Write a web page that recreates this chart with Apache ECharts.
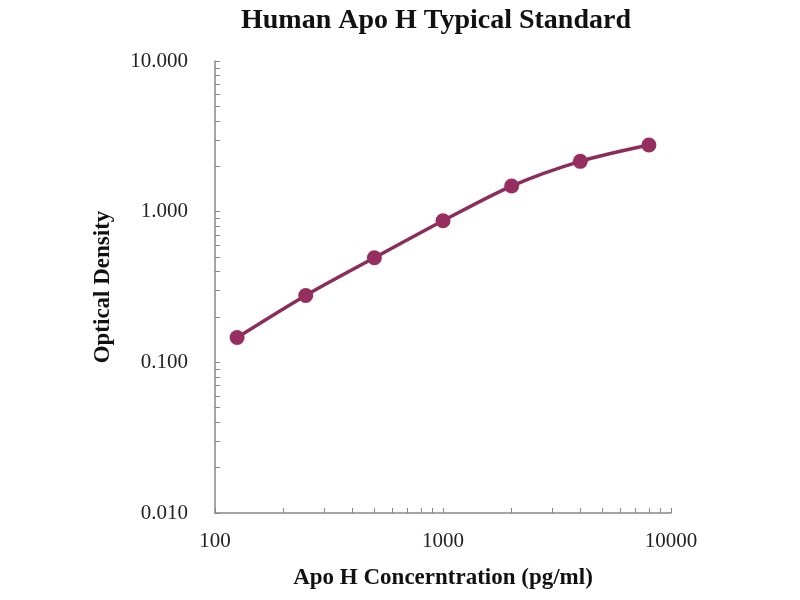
<!DOCTYPE html>
<html>
<head>
<meta charset="utf-8">
<script src="https://cdn.jsdelivr.net/npm/echarts@6/dist/echarts.min.js"></script>
<style>html,body{margin:0;padding:0;background:#fff}#c{width:800px;height:600px}</style>
</head>
<body>
<div id="c"></div>
<script>
const concentrations = [125, 250, 500, 1000, 2000, 4000, 8000];
const opticalDensity = [0.146, 0.278, 0.494, 0.870, 1.479, 2.157, 2.767];
const xTickValues = [100,200,300,400,500,600,700,800,900,1000,2000,3000,4000,5000,6000,7000,8000,9000,10000];
const xLabelValues = [100, 1000, 10000];
const yTickValues = [0.01,0.02,0.03,0.04,0.05,0.06,0.07,0.08,0.09,0.1,0.2,0.3,0.4,0.5,0.6,0.7,0.8,0.9,1,2,3,4,5,6,7,8,9,10];
const yLabelValues = [0.01, 0.1, 1, 10];

const serif = '"Liberation Serif", "Times New Roman", serif';
const chart = echarts.init(document.getElementById('c'));
chart.setOption({
  backgroundColor: '#fff',
  animation: false,
  title: {
    text: 'Human Apo H Typical Standard',
    left: 431, top: 2, textAlign: 'center',
    textStyle: {fontFamily: serif, fontWeight: 'bold', fontSize: 28, color: '#111'}
  },
  grid: {left: 215, right: 129, top: 61, bottom: 87, containLabel: false},
  xAxis: {
    type: 'log', logBase: 10, min: 100, max: 10000,
    name: 'Apo H Concerntration (pg/ml)', nameLocation: 'middle', nameGap: 54,
    nameTextStyle: {fontFamily: serif, fontWeight: 'bold', fontSize: 23, color: '#111'},
    axisLine: {show: true, lineStyle: {color: '#888', width: 1.5}},
    axisTick: {show: true, inside: true, length: 5, customValues: xTickValues, lineStyle: {color: '#888'}},
    axisLabel: {customValues: xLabelValues, margin: 18, fontFamily: serif, fontSize: 21, color: '#222',
      formatter: v => String(Math.round(v))},
    splitLine: {show: false}
  },
  yAxis: {
    type: 'log', logBase: 10, min: 0.01, max: 10,
    name: 'Optical Density', nameLocation: 'middle', nameGap: 100,
    nameTextStyle: {fontFamily: serif, fontWeight: 'bold', fontSize: 23, color: '#111'},
    axisLine: {show: true, lineStyle: {color: '#888', width: 1.5}},
    axisTick: {show: true, inside: true, length: 5, customValues: yTickValues, lineStyle: {color: '#888'}},
    axisLabel: {customValues: yLabelValues, margin: 27, fontFamily: serif, fontSize: 21, color: '#222',
      formatter: v => Number(v).toFixed(3)},
    splitLine: {show: false}
  },
  series: [{
    type: 'line',
    data: concentrations.map((c, i) => [c, opticalDensity[i]]),
    smooth: 0.3,
    symbol: 'circle', symbolSize: 15,
    lineStyle: {color: '#8a2d5a', width: 3.5},
    itemStyle: {color: '#962f60'}
  }]
});
</script>
</body>
</html>
